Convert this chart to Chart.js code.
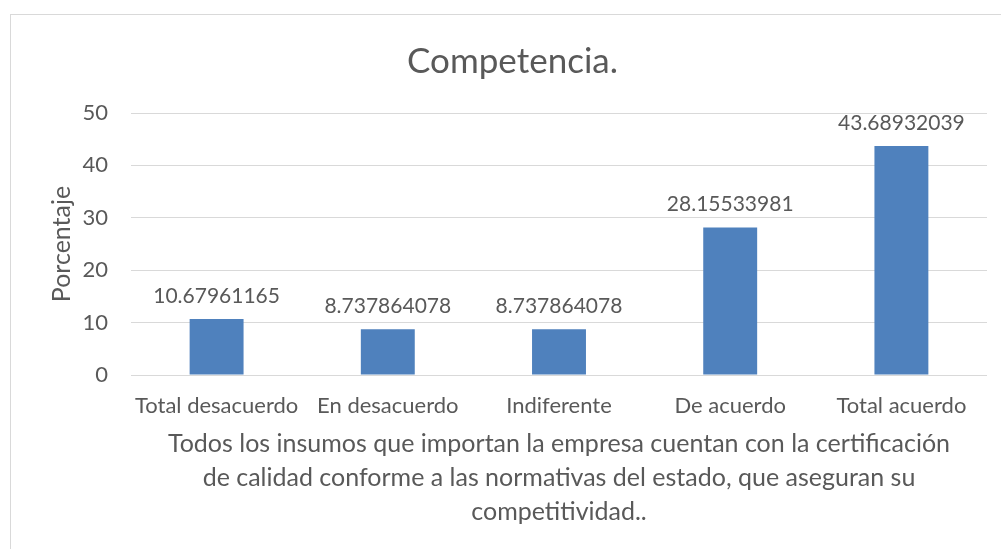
<!DOCTYPE html>
<html>
<head>
<meta charset="utf-8">
<script src="https://cdn.jsdelivr.net/npm/chart.js@4/dist/chart.umd.min.js"></script>
<style>
  html, body { margin: 0; padding: 0; background: #fff; }
  #wrap { width: 1001px; height: 549px; }
</style>
</head>
<body>
<div id="wrap"><canvas id="chart" width="1001" height="549"></canvas></div>
<script>
// datos del gráfico
const categorias = ['Total desacuerdo', 'En desacuerdo', 'Indiferente', 'De acuerdo', 'Total acuerdo'];
const porcentajes = [10.67961165, 8.737864078, 8.737864078, 28.15533981, 43.68932039];
const ticksY = [0, 10, 20, 30, 40, 50];
const tituloX = [
    'Todos los insumos que importan la empresa cuentan con la certificación',
    'de calidad conforme a las normativas del estado, que aseguran su',
    'competitividad..'
];

const gris = '#595959';
const fuente = 'Lato, "Open Sans", sans-serif';

// marco del gráfico + etiquetas de datos
const marco = {
    id: 'marco',
    beforeDraw(chart) {
        const ctx = chart.ctx;
        ctx.save();
        ctx.fillStyle = '#fff';
        ctx.fillRect(0, 0, chart.width, chart.height);
        ctx.strokeStyle = '#d9d9d9';
        ctx.lineWidth = 1;
        ctx.strokeRect(10.5, 14.5, chart.width + 20, chart.height + 20);
        ctx.restore();
    }
};

const etiquetas = {
    id: 'etiquetas',
    afterDatasetsDraw(chart) {
        const ctx = chart.ctx;
        ctx.save();
        ctx.fillStyle = gris;
        ctx.font = '21px ' + fuente;
        ctx.textAlign = 'center';
        ctx.textBaseline = 'middle';
        chart.getDatasetMeta(0).data.forEach((bar, i) => {
            ctx.fillText(String(porcentajes[i]), bar.x, bar.y - 23);
        });
        ctx.restore();
    }
};

new Chart(document.getElementById('chart'), {
    type: 'bar',
    data: {
        labels: categorias,
        datasets: [{
            data: porcentajes,
            backgroundColor: '#4f81bd',
            borderWidth: 0,
            categoryPercentage: 1,
            barPercentage: 0.315
        }]
    },
    options: {
        responsive: false,
        animation: false,
        layout: { padding: { left: 38, right: 14, top: 0, bottom: 0 } },
        plugins: {
            legend: { display: false },
            tooltip: { enabled: false },
            title: {
                display: true,
                text: 'Competencia.',
                color: gris,
                font: { family: fuente, size: 35, weight: 'normal', lineHeight: '40px' },
                padding: { top: 42, bottom: 31 }
            }
        },
        scales: {
            x: {
                grid: { display: false, drawTicks: false },
                border: { display: false },
                ticks: {
                    color: gris,
                    font: { family: fuente, size: 22 },
                    padding: 18,
                    maxRotation: 0,
                    autoSkip: false
                },
                title: {
                    display: true,
                    text: tituloX,
                    color: gris,
                    font: { family: fuente, size: 25, lineHeight: '34px' },
                    padding: { top: 0, bottom: 20 }
                },
                afterFit(s) { s.height = 174; }
            },
            y: {
                min: 0,
                max: 50,
                afterBuildTicks(s) { s.ticks = ticksY.map(v => ({ value: v })); },
                grid: { color: '#d9d9d9', lineWidth: 1, drawTicks: false },
                border: { display: false },
                ticks: {
                    color: gris,
                    font: { family: fuente, size: 22 },
                    padding: 23
                },
                title: {
                    display: true,
                    text: 'Porcentaje',
                    color: gris,
                    font: { family: fuente, size: 25, lineHeight: '30px' },
                    padding: { top: 9, bottom: 0 }
                },
                afterFit(s) { s.width = 93; }
            }
        }
    },
    plugins: [marco, etiquetas]
});
</script>
</body>
</html>
